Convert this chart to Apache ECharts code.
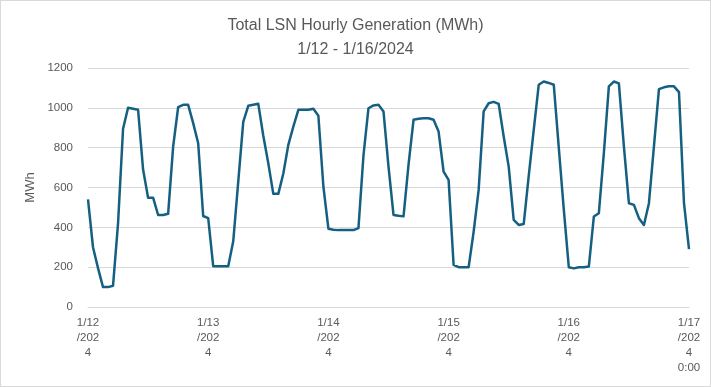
<!DOCTYPE html>
<html>
<head>
<meta charset="utf-8">
<script src="https://cdn.jsdelivr.net/npm/echarts@6/dist/echarts.min.js"></script>
<style>
html,body{margin:0;padding:0;background:#fff;}
#wrap{position:absolute;left:0;top:0;width:709px;height:385px;border:1px solid #d9d9d9;}
#chart{width:711px;height:387px;position:absolute;left:-1px;top:-1px;}
</style>
</head>
<body>
<div id="wrap"><div id="chart"></div></div>
<script>
// Hourly generation (MWh), 1/12/2024 0:00 .. 1/17/2024 0:00
const generation = [
  540, 300, 195, 100, 100, 107, 420, 895, 1000, 995, 990, 690, 549, 549, 462, 462, 468, 805, 1003, 1015, 1015, 923, 822, 457,
  446, 205, 205, 205, 205, 330, 630, 930, 1010, 1015, 1020, 860, 722, 568, 568, 670, 814, 906, 990, 990, 990, 995, 960, 605,
  393, 388, 386, 386, 386, 386, 396, 760, 998, 1012, 1015, 982, 705, 462, 458, 455, 715, 940, 945, 948, 948, 940, 881, 680,
  638, 211, 200, 200, 200, 378, 588, 982, 1023, 1030, 1020, 856, 705, 437, 412, 417, 658, 889, 1116, 1132, 1125, 1116, 800, 490,
  200, 194, 200, 200, 203, 454, 471, 773, 1108, 1132, 1123, 806, 521, 513, 446, 412, 521, 806, 1094, 1103, 1108, 1108, 1079, 521,
  291
];
const days = ["1/12/2024", "1/13/2024", "1/14/2024", "1/15/2024", "1/16/2024", "1/17/2024"];
const tickLabels = ["1/12\n/202\n4", "1/13\n/202\n4", "1/14\n/202\n4", "1/15\n/202\n4", "1/16\n/202\n4", "1/17\n/202\n4\n0:00"];
const yTicks = [0, 200, 400, 600, 800, 1000, 1200];
const categories = [];
for (let d = 0; d < days.length; d++) {
  for (let h = 0; h < 24; h++) {
    if (d === days.length - 1 && h > 0) break;
    categories.push(days[d] + " " + h + ":00");
  }
}
const chart = echarts.init(document.getElementById('chart'), null, {renderer: 'canvas'});
chart.setOption({
  animation: false,
  backgroundColor: 'transparent',
  title: {
    text: 'Total LSN Hourly Generation (MWh)\n1/12 - 1/16/2024',
    left: 'center',
    top: 9,
    textStyle: {
      fontFamily: 'Liberation Sans',
      fontSize: 16,
      fontWeight: 'normal',
      color: '#595959',
      lineHeight: 24
    }
  },
  grid: {left: 88, right: 22, top: 68, bottom: 80, containLabel: false},
  xAxis: {
    type: 'category',
    data: categories,
    boundaryGap: false,
    axisLine: {show: true, lineStyle: {color: '#d9d9d9', width: 1}},
    axisTick: {show: false},
    axisLabel: {
      interval: function (i) { return i % 24 === 0; },
      formatter: function (v, i) { return tickLabels[Math.round(i / 24)]; },
      color: '#595959',
      fontFamily: 'Liberation Sans',
      fontSize: 11.5,
      lineHeight: 15,
      margin: 8
    },
    splitLine: {show: false}
  },
  yAxis: {
    type: 'value',
    min: yTicks[0],
    max: yTicks[yTicks.length - 1],
    interval: 200,
    name: 'MWh',
    nameLocation: 'middle',
    nameGap: 50,
    nameRotate: 90,
    nameTextStyle: {color: '#595959', fontFamily: 'Liberation Sans', fontSize: 13},
    axisLine: {show: false},
    axisTick: {show: false},
    axisLabel: {
      color: '#595959', fontFamily: 'Liberation Sans', fontSize: 11.5, margin: 15,
      formatter: function (v) { return String(v); }
    },
    splitLine: {lineStyle: {color: '#d9d9d9', width: 1}}
  },
  series: [{
    type: 'line',
    data: generation,
    showSymbol: false,
    symbol: 'none',
    lineStyle: {color: '#156082', width: 2.5, join: 'round'},
    itemStyle: {color: '#156082'}
  }]
});
</script>
</body>
</html>
